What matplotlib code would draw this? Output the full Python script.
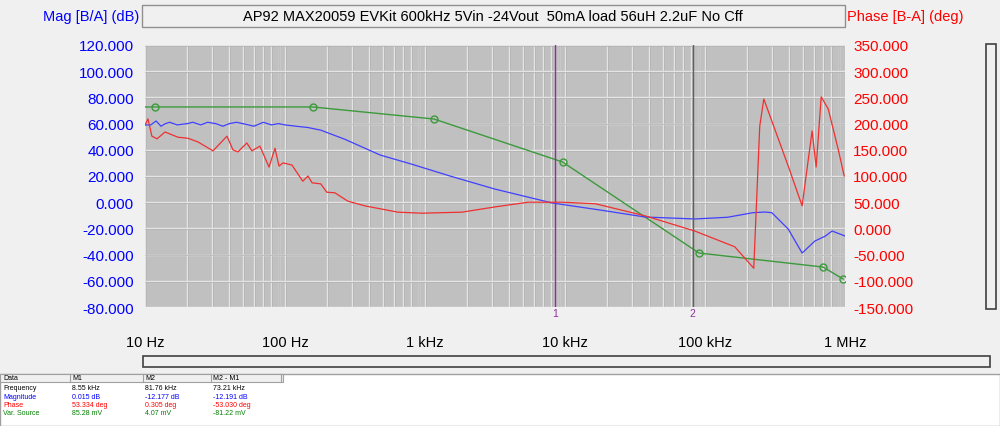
import matplotlib
matplotlib.use("Agg")
import matplotlib.pyplot as plt
import numpy as np
from matplotlib.patches import Rectangle

plt.rcParams['font.family'] = ['Liberation Sans', 'DejaVu Sans']

mag_f = [10, 11, 12, 13, 14, 15, 17, 20, 22, 25, 28, 32, 36, 40, 45, 50, 60, 70, 80, 90, 100, 120, 146, 180,
         268, 479, 805, 1508, 3162, 8100, 17900, 37300, 84500, 145000, 220000, 268000, 300000, 393000,
         494000, 610000, 720000, 809000, 1000000]
mag_db = [59, 59, 62, 58, 60, 61, 59, 60, 61, 59, 61, 60, 58, 60, 61, 60, 58, 61, 59, 60, 59, 58, 57, 55,
          48, 36, 29, 20, 10, -0.6, -6, -11.3, -12.8, -11.5, -8, -7.5, -8, -20.5,
          -38.8, -29.6, -26, -22, -25.8]

ph_f = [10, 10.5, 11.2, 12.2, 13.9, 17.2, 20.3, 23.9, 30.6, 38.5, 42.5, 46.1, 53.4, 58, 66.2, 76.9, 84.8,
        90.6, 96.8, 112, 134, 146, 156, 180, 199, 227, 281, 372, 640, 950, 1840, 3162, 5450, 9550,
        16500, 37300, 84500, 163000, 223000, 246000, 263000, 393000, 494000, 582000, 622000, 676000,
        759000, 894000, 987000]
ph_deg = [197, 209, 176, 171, 184, 174, 172, 165, 148, 176, 150, 146, 163, 148, 157, 117, 153,
          119, 125, 121, 90, 100, 87, 85, 69, 68, 52, 43, 31, 29, 31, 41, 50, 50,
          47, 24, -5, -35, -76, 195, 247, 119, 43, 186, 117, 251,
          228, 151, 100]

src_f = [10, 11.8, 158, 1160, 9600, 90600, 697000, 968000]
src_lvl = [72.7, 72.7, 72.7, 63.5, 30.7, -38.8, -49.5, -58.6]   # drawn on mag scale
src_marked = [11.8, 158, 1160, 9600, 90600, 697000, 968000]

markers_f = [8550, 81760]
xticks = [10, 100, 1e3, 1e4, 1e5, 1e6]
xlabels = ["10 Hz", "100 Hz", "1 kHz", "10 kHz", "100 kHz", "1 MHz"]
mag_ticks = list(range(-80, 121, 20))
ph_ticks = list(range(-150, 351, 50))

fig = plt.figure(figsize=(10, 4.27), dpi=100)
fig.patch.set_facecolor("#f0f0f0")
W, H = 1000, 427
L, R, T, B = 145, 845, 46, 308
ax = fig.add_axes([L / W, 1 - B / H, (R - L) / W, (B - T) / H])
ax.set_facecolor("#c0c0c0")
ax.set_xscale("log")
ax.set_xlim(10, 1e6)
ax.set_ylim(-80, 120)
for d in range(1, 6):
    for k in range(1, 10):
        ax.axvline(10 ** d * k, color="#e4e4e4", lw=1, zorder=0)
        ax.axvline(10 ** d * k * 1.012, color="#b0b0b0", lw=0.5, zorder=0)
for v in mag_ticks:
    ax.axhline(v, color="#e4e4e4", lw=1, zorder=0)
    ax.axhline(v - 0.6, color="#b0b0b0", lw=0.5, zorder=0)
for s in ax.spines.values():
    s.set_visible(False)
ax.tick_params(length=0)
ax.set_xticks(xticks)
ax.set_xticklabels(xlabels, fontsize=10.5)
ax.minorticks_off()
ax.tick_params(axis="x", pad=20)
ax.set_yticks(mag_ticks)
ax.set_yticklabels([f"{v:.3f}" for v in mag_ticks], color="blue", fontsize=11)
ax.tick_params(axis="y", pad=8)

ax.plot(src_f, src_lvl, color="#3c9a3c", lw=1, zorder=3)
mk_y = np.interp(np.log10(src_marked), np.log10(src_f), src_lvl)
ax.plot(src_marked, mk_y, "o", mfc="none", mec="#3c9a3c", ms=5, zorder=3)
ax.plot(mag_f, mag_db, color="#4040ff", lw=0.9, zorder=4)

ax2 = ax.twinx()
ax2.set_ylim(-150, 350)
for s in ax2.spines.values():
    s.set_visible(False)
ax2.tick_params(length=0, pad=6)
ax2.set_yticks(ph_ticks)
ax2.set_yticklabels([f"{v:.3f}" for v in ph_ticks], color="red", fontsize=11)
ax2.plot(ph_f, ph_deg, color="#f03030", lw=0.9, zorder=4)

for i, f in enumerate(markers_f):
    ax.axvline(f, color="#9030a0" if i == 0 else "#606060", lw=1, zorder=5)
    ax.text(f, -81, str(i + 1), color="#9030a0", fontsize=7.5, ha="center", va="top")

# header
fig.text(91 / W, 1 - 17 / H, "Mag [B/A] (dB)", color="blue", fontsize=10.5, ha="center", va="center")
fig.text(905 / W, 1 - 17 / H, "Phase [B-A] (deg)", color="red", fontsize=10.5, ha="center", va="center")
fig.patches.append(Rectangle((142 / W, 1 - 28 / H), (845 - 142) / W, 22 / H, transform=fig.transFigure,
                             fc="#f0f0f0", ec="#909090", lw=1))
fig.text(493 / W, 1 - 17 / H, "AP92 MAX20059 EVKit 600kHz 5Vin -24Vout  50mA load 56uH 2.2uF No Cff",
         fontsize=10.5, ha="center", va="center")
# scrollbars
fig.patches.append(Rectangle((143 / W, 1 - 368 / H), (990 - 143) / W, 11 / H, transform=fig.transFigure,
                             fc="#f0f0f0", ec="#404040", lw=1.2))
fig.patches.append(Rectangle((986 / W, 1 - 310 / H), 10 / W, 265 / H, transform=fig.transFigure,
                             fc="#f0f0f0", ec="#404040", lw=1.2))
# table
fig.patches.append(Rectangle((0, 0), 1, 52 / H, transform=fig.transFigure, fc="white", ec="#a0a0a0", lw=1))
fig.patches.append(Rectangle((0, 1 - 383 / H), 283 / W, 8 / H, transform=fig.transFigure,
                             fc="#f0f0f0", ec="#a0a0a0", lw=0.8))
cols = [3, 72, 145, 213]
for c in cols[1:] + [283]:
    fig.lines.append(plt.Line2D([c / W - 0.002] * 2, [1 - 375 / H, 1 - 383 / H], transform=fig.transFigure,
                                color="#a0a0a0", lw=0.8))
heads = ["Data", "M1", "M2", "M2 - M1"]
rows = [["Frequency", "8.55 kHz", "81.76 kHz", "73.21 kHz"],
        ["Magnitude", "0.015 dB", "-12.177 dB", "-12.191 dB"],
        ["Phase", "53.334 deg", "0.305 deg", "-53.030 deg"],
        ["Var. Source", "85.28 mV", "4.07 mV", "-81.22 mV"]]
rcol = ["black", "blue", "red", "green"]
for c, h in zip(cols, heads):
    fig.text(c / W, 1 - 379 / H, h, fontsize=5, va="center")
for j, (row, col) in enumerate(zip(rows, rcol)):
    for c, t in zip(cols, row):
        fig.text(c / W, 1 - (389 + 8.3 * j) / H, t, fontsize=5, color=col, va="center")

fig.savefig("out.png", dpi=100, facecolor=fig.get_facecolor())
